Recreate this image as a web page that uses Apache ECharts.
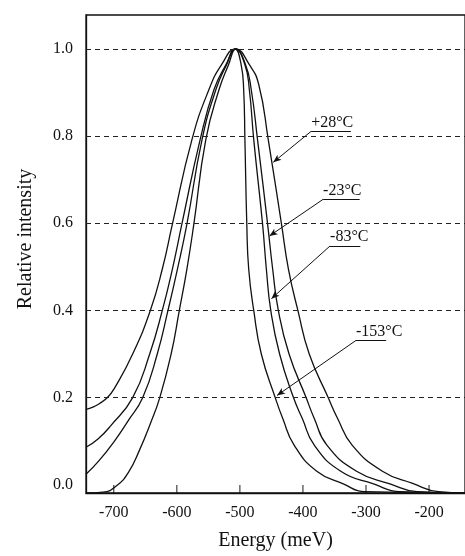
<!DOCTYPE html>
<html>
<head>
<meta charset="utf-8">
<script src="https://cdn.jsdelivr.net/npm/echarts@6/dist/echarts.min.js"></script>
<style>
html,body{margin:0;padding:0;background:#fff;}
#main{width:465px;height:556px;}
</style>
</head>
<body>
<div id="main"></div>
<script>
// Tick labels
const xTicks = [-700, -600, -500, -400, -300, -200];
const yTicks = [0, 0.2, 0.4, 0.6, 0.8, 1.0];
const gridLevels = [0.2, 0.4, 0.6, 0.8, 1.0];

// Series names
const seriesNames = ['+28°C', '-23°C', '-83°C', '-153°C'];

// [energy (meV), relative intensity]
const curve28 = [[-744,0.173],[-733,0.178],[-723,0.186],[-710,0.200],[-699,0.221],[-670,0.300],[-642,0.400],[-623,0.495],[-607,0.598],[-576,0.792],[-549,0.907],[-529,0.964],[-507,1.000],[-485,0.964],[-470,0.918],[-455,0.792],[-434,0.598],[-423,0.495],[-408,0.400],[-390,0.300],[-360,0.200],[-345,0.152],[-322,0.091],[-274,0.031],[-226,0.003],[-185,-0.016],[-143,-0.019]];
const curve23 = [[-744,0.086],[-725,0.105],[-705,0.135],[-670,0.200],[-643,0.300],[-623,0.400],[-607,0.495],[-592,0.598],[-563,0.792],[-541,0.907],[-522,0.964],[-507,1.000],[-491,0.964],[-482,0.907],[-472,0.792],[-456,0.598],[-448,0.495],[-439,0.400],[-422,0.300],[-395,0.200],[-382,0.152],[-362,0.091],[-315,0.031],[-262,0.002],[-219,-0.016],[-143,-0.019]];
const curve83 = [[-744,0.024],[-724,0.054],[-700,0.098],[-678,0.145],[-654,0.200],[-631,0.300],[-614,0.400],[-599,0.495],[-584,0.598],[-560,0.792],[-538,0.907],[-521,0.964],[-507,1.000],[-492,0.964],[-485,0.907],[-478,0.792],[-464,0.598],[-458,0.495],[-451,0.400],[-437,0.300],[-415,0.200],[-401,0.152],[-382,0.091],[-340,0.031],[-288,0.002],[-246,-0.016],[-143,-0.019]];
const curve153 = [[-744,-0.019],[-717,-0.017],[-695,-0.002],[-676,0.030],[-659,0.080],[-642,0.140],[-627,0.200],[-609,0.300],[-596,0.400],[-584,0.495],[-573,0.598],[-554,0.792],[-533,0.907],[-518,0.964],[-507,1.000],[-498,0.964],[-494,0.907],[-492,0.792],[-489,0.598],[-486,0.495],[-478,0.400],[-466,0.300],[-444,0.200],[-432,0.152],[-414,0.091],[-378,0.031],[-336,0.002],[-302,-0.016],[-143,-0.019]];

// Annotation anchors in data coordinates
const annoStart = [[-387,0.811],[-368,0.655],[-357,0.548],[-316,0.331]];
const annoEnd   = [[-324,0.811],[-310,0.655],[-309,0.548],[-268,0.331]];
const annoTip   = [[-447,0.740],[-453,0.571],[-450,0.427],[-441,0.205]];

const FONT = '"Liberation Serif", "Times New Roman", serif';
const curves = [curve28, curve23, curve83, curve153];
const Y_MIN = -0.019, Y_MAX = 1.078, X_MIN = -744, X_MAX = -143;

const chart = echarts.init(document.getElementById('main'));

const series = curves.map((d, i) => ({
  type: 'line',
  name: seriesNames[i],
  data: d,
  showSymbol: false,
  smooth: 0.5,
  silent: true,
  lineStyle: { color: '#111', width: 1.3 }
}));

// dashed reference lines
series.push({
  type: 'line',
  data: [],
  silent: true,
  markLine: {
    silent: true,
    symbol: 'none',
    animation: false,
    lineStyle: { type: [5, 4], color: '#222', width: 1 },
    label: { show: false },
    data: gridLevels.map(v => ({ yAxis: v }))
  }
});

// inward ticks on the energy axis
series.push({
  type: 'scatter',
  data: xTicks.map(x => [x, Y_MIN]),
  silent: true,
  clip: false,
  symbol: 'rect',
  symbolSize: [1.2, 8],
  symbolOffset: [0, -4],
  itemStyle: { color: '#111' },
  z: 5
});

const annoData = [];
seriesNames.forEach((t, i) => {
  annoData.push([
    { coord: annoStart[i], symbol: 'none',
      label: { show: true, formatter: t, position: 'insideStartTop', distance: [0, 1],
               color: '#111', fontFamily: FONT, fontSize: 16 } },
    { coord: annoEnd[i], symbol: 'none' }
  ]);
  annoData.push([
    { coord: annoStart[i], symbol: 'none', label: { show: false } },
    { coord: annoTip[i], symbol: 'arrow', symbolSize: [5, 8] }
  ]);
});

series.push({
  type: 'line',
  data: [],
  silent: true,
  markLine: {
    silent: true,
    animation: false,
    lineStyle: { type: 'solid', color: '#111', width: 1 },
    label: { show: false },
    data: annoData
  }
});

chart.setOption({
  animation: false,
  backgroundColor: '#fff',
  grid: { left: 86, right: -3, top: 15, bottom: 61, show: true, borderColor: '#111', borderWidth: 1.3, backgroundColor: 'transparent' },
  xAxis: {
    type: 'value',
    min: X_MIN, max: X_MAX,
    name: 'Energy (meV)',
    nameLocation: 'middle',
    nameGap: 38,
    nameTextStyle: { fontFamily: FONT, fontSize: 20, color: '#111' },
    axisLine: { show: true, onZero: false, lineStyle: { color: '#111', width: 1.3 } },
    axisTick: { show: false },
    axisLabel: { customValues: xTicks, fontFamily: FONT, fontSize: 16, color: '#111', margin: 12 },
    splitLine: { show: false }
  },
  yAxis: {
    type: 'value',
    min: Y_MIN, max: Y_MAX,
    name: 'Relative intensity',
    nameLocation: 'middle',
    nameGap: 50,
    nameRotate: 90,
    nameTextStyle: { fontFamily: FONT, fontSize: 20, color: '#111', padding: [0, 0, 0, 30] },
    axisLine: { show: true, onZero: false, lineStyle: { color: '#111', width: 1.3 } },
    axisTick: { show: false },
    axisLabel: { customValues: yTicks, fontFamily: FONT, fontSize: 16, color: '#111', margin: 13,
                 formatter: v => v.toFixed(1) },
    splitLine: { show: false }
  },
  series: series
});
</script>
</body>
</html>
